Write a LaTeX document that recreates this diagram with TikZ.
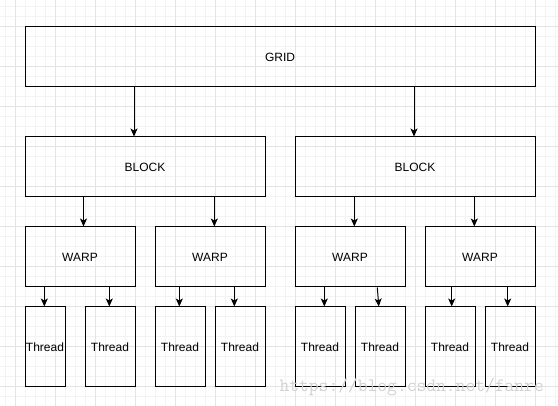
\documentclass[tikz,border=0pt]{standalone}
\usepackage{fontspec}
\setmainfont{Liberation Sans}
\usetikzlibrary{arrows.meta}
\definecolor{gridminor}{HTML}{F3F3F3}
\definecolor{gridmajor}{HTML}{E4E4E4}
\definecolor{wmark}{HTML}{D2D2D2}
\tikzset{
  box/.style={draw=black, line width=1pt, inner sep=0pt, font=\fontsize{12}{14}\selectfont},
  arr/.style={draw=black, line width=1pt, -{Stealth[length=8pt,width=7pt,inset=2pt]}},
  minorline/.style={draw=gridminor, line width=1pt},
  majorline/.style={draw=gridmajor, line width=1pt}
}
\begin{document}
\begin{tikzpicture}[x=1pt,y=-1pt]
\useasboundingbox (0,0) rectangle (558,406);
\fill[white] (0,0) rectangle (558,406);
% background grid
\foreach \x in {5,15,...,555} \draw[minorline] (\x,0) -- (\x,406);
\foreach \y in {7,17,...,397} \draw[minorline] (0,\y) -- (558,\y);
\foreach \x in {15,55,...,535} \draw[majorline] (\x,0) -- (\x,406);
\foreach \y in {27,67,...,387} \draw[majorline] (0,\y) -- (558,\y);
% nodes
\node[box, minimum width=510, minimum height=60] (grid) at (280,57) {GRID};
\node[box, minimum width=240, minimum height=60] (b1) at (145,167) {BLOCK};
\node[box, minimum width=240, minimum height=60] (b2) at (415,167) {BLOCK};
\node[box, minimum width=110, minimum height=60] (w1) at (80,257) {WARP};
\node[box, minimum width=110, minimum height=60] (w2) at (210,257) {WARP};
\node[box, minimum width=110, minimum height=60] (w3) at (350,257) {WARP};
\node[box, minimum width=110, minimum height=60] (w4) at (480,257) {WARP};
\node[box, minimum width=40, minimum height=80] (t1) at (45,347) {Thread};
\node[box, minimum width=50, minimum height=80] (t2) at (110,347) {Thread};
\node[box, minimum width=50, minimum height=80] (t3) at (180,347) {Thread};
\node[box, minimum width=50, minimum height=80] (t4) at (240,347) {Thread};
\node[box, minimum width=50, minimum height=80] (t5) at (320,347) {Thread};
\node[box, minimum width=50, minimum height=80] (t6) at (380,347) {Thread};
\node[box, minimum width=50, minimum height=80] (t7) at (450,347) {Thread};
\node[box, minimum width=50, minimum height=80] (t8) at (510,347) {Thread};
% connectors
\draw[arr] ([xshift=-11]b1.north |- grid.south) -- ([xshift=-11]b1.north);
\draw[arr] ([xshift=-1]b2.north |- grid.south) -- ([xshift=-1]b2.north);
\draw[arr] ([xshift=3.5]w1.north |- b1.south) -- ([xshift=3.5]w1.north);
\draw[arr] ([xshift=4.3]w2.north |- b1.south) -- ([xshift=4.3]w2.north);
\draw[arr] ([xshift=4.3]w3.north |- b2.south) -- ([xshift=4.3]w3.north);
\draw[arr] ([xshift=-5.7]w4.north |- b2.south) -- ([xshift=-5.7]w4.north);
\draw[arr] ([xshift=-0.7]t1.north |- w1.south) -- ([xshift=-0.7]t1.north);
\draw[arr] ([xshift=-0.7]t2.north |- w1.south) -- ([xshift=-0.7]t2.north);
\draw[arr] ([xshift=-0.7]t3.north |- w2.south) -- ([xshift=-0.7]t3.north);
\draw[arr] ([xshift=-5.7]t4.north |- w2.south) -- ([xshift=-5.7]t4.north);
\draw[arr] ([xshift=4.3]t5.north |- w3.south) -- ([xshift=4.3]t5.north);
\draw[arr] ([xshift=-2.7]t6.north |- w3.south) -- ([xshift=-1.2]t6.north);
\draw[arr] ([xshift=1.7]t7.north |- w4.south) -- ([xshift=1.7]t7.north);
\draw[arr] ([xshift=-2.3]t8.north |- w4.south) -- ([xshift=-2.3]t8.north);
% watermark
\node[anchor=base, inner sep=0pt, text=wmark, font=\fontsize{19}{19}\ttfamily] (wm) at (411.7,391.7) {https://blog.csdn.net/fanre};
\end{tikzpicture}
\end{document}
